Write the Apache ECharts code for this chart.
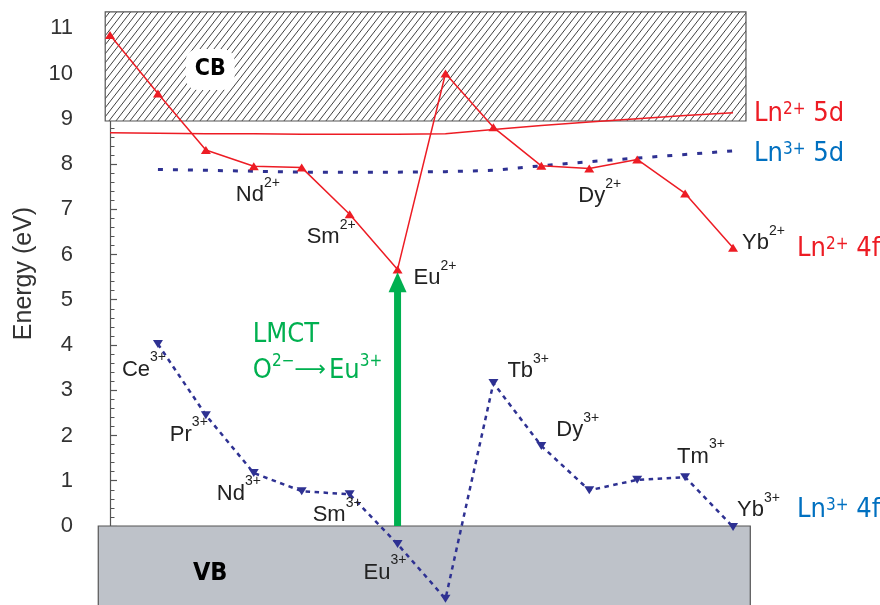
<!DOCTYPE html>
<html><head><meta charset="utf-8">
<script src="https://cdn.jsdelivr.net/npm/echarts@6/dist/echarts.min.js"></script>
<style>html,body{margin:0;padding:0;background:#fff}#c{width:880px;height:605px}</style>
</head><body><div id="c"></div>
<script>
// ---------------- data ----------------
const elements = ['La','Ce','Pr','Nd','Pm','Sm','Eu','Gd','Tb','Dy','Ho','Er','Tm','Yb'];
const ln2_4f = [10.85, 9.56, 8.31, 7.95, 7.92, 6.89, 5.67, 10.0, 8.81, 7.96, 7.90, 8.10, 7.35, 6.15];
const ln2_5d = [8.69, 8.68, 8.67, 8.67, 8.66, 8.66, 8.66, 8.67, 8.76, 8.85, 8.93, 9.00, 9.07, 9.13];
const ln3_5d = [null, 7.88, 7.86, 7.84, 7.82, 7.82, 7.82, 7.83, 7.86, 7.96, 8.05, 8.13, 8.21, 8.29];
const ln3_4f = [null, 4.02, 2.45, 1.17, 0.77, 0.70, -0.40, -1.61, 3.16, 1.77, 0.79, 1.02, 1.08, -0.02];
const yTicks = [0,1,2,3,4,5,6,7,8,9,10,11];
const cbBand = [-0.10, 8.95, 13.27, 11.36];   // x0, y0, x1, y1
const vbBand = [-0.245, -2.0, 13.36, 0];
const lmctArrow = [6, 0, 5.61];               // Eu, from VB top to Eu2+ 4f
const labels2 = ['Nd','Sm','Eu','Dy','Yb'];
const labels3 = ['Ce','Pr','Nd','Sm','Eu','Tb','Dy','Tm','Yb'];
const seriesNames = {r5d:'Ln2+ 5d', b5d:'Ln3+ 5d', r4f:'Ln2+ 4f', b4f:'Ln3+ 4f'};

// ---------------- layout / style ----------------
const RED = '#ED1C24', NAVY = '#2E3192', LBLUE = '#0070C0', GREEN = '#00B050', TXT = '#222';
const FA = '"Liberation Sans", Arial, sans-serif';
const FC = '"DejaVu Sans Condensed", "Liberation Sans", sans-serif';
const off2 = {Nd:[-18,29], Sm:[-43,23], Eu:[16,9], Dy:[37,30], Yb:[9,-4.5]};
const off3 = {Ce:[-36,25.5], Pr:[-36,19.5], Nd:[-37,20.5], Sm:[-37,20.5], Eu:[-34,28.5], Tb:[14,-12], Dy:[15,-15.5], Tm:[-8,-20.5], Yb:[4,-17]};
const annot = {cb:[2.09, 10.09], vb:[2.09, -1.04], lmct:[2.98, 3.83]};

const elRich = {
  a: {fontSize: 22, fontFamily: FA, color: TXT, lineHeight: 38},
  s: {fontSize: 14, fontFamily: FA, color: TXT, lineHeight: 14, verticalAlign: 'top'}
};
function endRich(color) {
  return {
    a: {fontSize: 27, fontFamily: FC, color: color, lineHeight: 26},
    s: {fontSize: 17, fontFamily: FC, color: color, lineHeight: 17, verticalAlign: 'top'}
  };
}
function endFmt(name) { // 'Ln2+ 5d' -> rich
  const m = name.match(/^(Ln)(\d\+) (.+)$/);
  return '{a|' + m[1] + '}{s|' + m[2] + '}{a| ' + m[3] + '}';
}

function pointData(values, labelSet, offs, charge) {
  const out = [];
  values.forEach((v, i) => {
    if (v === null) return;
    const name = elements[i];
    const item = {value: [i, v]};
    if (labelSet.indexOf(name) >= 0) {
      item.label = {show: true, position: 'inside', align: 'left', verticalAlign: 'middle',
        offset: offs[name], formatter: '{a|' + name + '}{s|' + charge + '}', rich: elRich};
    }
    out.push(item);
  });
  return out;
}
function lineData(values) {
  const out = [];
  values.forEach((v, i) => { if (v !== null) out.push([i, v]); });
  return out;
}

// hatch pattern for CB
const pc = document.createElement('canvas');
pc.width = 7; pc.height = 9;
(function () {
  const c = pc.getContext('2d');
  c.fillStyle = '#fff'; c.fillRect(0, 0, 7, 9);
  c.strokeStyle = '#2a2a2a'; c.lineWidth = 0.9;
  c.beginPath();
  c.moveTo(0, 9); c.lineTo(7, 0);
  c.moveTo(-7, 9); c.lineTo(0, 0);
  c.moveTo(7, 9); c.lineTo(14, 0);
  c.stroke();
})();

function bandRender(fill, label, labelPos, labelStyle) {
  return function (params, api) {
    const p0 = api.coord([api.value(0), api.value(3)]);
    const p1 = api.coord([api.value(2), api.value(1)]);
    const lp = api.coord(labelPos);
    return {type: 'group', children: [
      {type: 'rect', shape: {x: p0[0], y: p0[1], width: p1[0] - p0[0], height: p1[1] - p0[1]},
       style: {fill: fill, stroke: '#555', lineWidth: 1.2}},
      {type: 'text', x: lp[0], y: lp[1], style: Object.assign({text: label, align: 'center', verticalAlign: 'middle',
        fontFamily: FC, fontWeight: 'bold', fill: '#000'}, labelStyle)}
    ]};
  };
}

const chart = echarts.init(document.getElementById('c'), null, {renderer: 'canvas'});
chart.setOption({
  animation: false,
  backgroundColor: '#fff',
  grid: {left: 87, right: 123, top: 21, bottom: 79, outerBoundsMode: 'none'},
  xAxis: {type: 'value', min: -0.48, max: 13.5, show: false},
  yAxis: {
    type: 'value', min: 0, max: 11.16, interval: 1,
    name: 'Energy (eV)', nameLocation: 'middle', nameGap: 50,
    nameTextStyle: {fontSize: 25, fontFamily: FA, color: '#333'},
    axisLine: {show: true, lineStyle: {color: '#555', width: 1.2}},
    axisTick: {show: true, inside: true, length: 7, customValues: yTicks, lineStyle: {color: '#555', width: 1.2}},
    minorTick: {show: true, splitNumber: 5, length: 4.5, lineStyle: {color: '#555', width: 1}},
    axisLabel: {customValues: yTicks, fontSize: 22, fontFamily: FA, color: '#333', margin: 14},
    splitLine: {show: false}
  },
  series: [
    {type: 'custom', name: 'CB', clip: false, z: 1, data: [cbBand], encode: {x: [0, 2], y: [1, 3]},
     renderItem: bandRender({image: pc, repeat: 'repeat'}, 'CB', annot.cb,
       {fontSize: 23, backgroundColor: '#fff', borderRadius: 12, padding: [9, 9]})},
    {type: 'custom', name: 'VB', clip: false, z: 1, data: [vbBand], encode: {x: [0, 2], y: [1, 3]},
     renderItem: bandRender('#BEC2C9', 'VB', annot.vb, {fontSize: 25})},
    {type: 'line', name: seriesNames.r5d, clip: false, z: 3, data: lineData(ln2_5d), showSymbol: false, symbol: 'none',
     lineStyle: {color: RED, width: 1.5},
     endLabel: {show: true, distance: 0, offset: [21, 1], align: 'left', verticalAlign: 'middle',
       formatter: endFmt(seriesNames.r5d), rich: endRich(RED)}},
    {type: 'line', name: seriesNames.b5d, clip: false, z: 3, data: lineData(ln3_5d), showSymbol: false, symbol: 'none',
     lineStyle: {color: NAVY, width: 3, type: [5, 10]},
     endLabel: {show: true, distance: 0, offset: [21, 3], align: 'left', verticalAlign: 'middle',
       formatter: endFmt(seriesNames.b5d), rich: endRich(LBLUE)}},
    {type: 'line', name: seriesNames.r4f, clip: false, z: 4, data: pointData(ln2_4f, labels2, off2, '2+'),
     symbol: 'triangle', symbolSize: [10, 8], showAllSymbol: true,
     itemStyle: {color: RED}, lineStyle: {color: RED, width: 1.5},
     endLabel: {show: true, distance: 0, offset: [64, 1], align: 'left', verticalAlign: 'middle',
       formatter: endFmt(seriesNames.r4f), rich: endRich(RED)}},
    {type: 'line', name: seriesNames.b4f, clip: false, z: 4, data: pointData(ln3_4f, labels3, off3, '3+'),
     symbol: 'triangle', symbolRotate: 180, symbolSize: [10, 8], showAllSymbol: true,
     itemStyle: {color: NAVY}, lineStyle: {color: NAVY, width: 2.5, type: [4.5, 4.5]},
     endLabel: {show: true, distance: 0, offset: [64, -17], align: 'left', verticalAlign: 'middle',
       formatter: endFmt(seriesNames.b4f), rich: endRich(LBLUE)}},
    {type: 'custom', name: 'LMCT', clip: false, z: 5, data: [lmctArrow], encode: {x: 0, y: [1, 2]},
     renderItem: function (params, api) {
       const base = api.coord([api.value(0), api.value(1)]);
       const tip = api.coord([api.value(0), api.value(2)]);
       const hh = 20, hw = 9, sw = 7;
       const lp = api.coord(annot.lmct);
       return {type: 'group', children: [
         {type: 'rect', shape: {x: base[0] - sw / 2, y: tip[1] + hh - 1, width: sw, height: base[1] - tip[1] - hh + 1}, style: {fill: GREEN}},
         {type: 'polygon', shape: {points: [[tip[0], tip[1]], [tip[0] - hw, tip[1] + hh], [tip[0] + hw, tip[1] + hh]]}, style: {fill: GREEN}},
         {type: 'text', x: lp[0], y: lp[1], style: {
           text: '{g|LMCT}\n{g|O}{s|2\u2212}{r|\u27F6}{g|Eu}{s|3+}', align: 'left', verticalAlign: 'middle',
           rich: {
             g: {fontSize: 27, fontFamily: FC, fill: GREEN, lineHeight: 36},
             r: {fontSize: 22, fontFamily: '"DejaVu Sans", sans-serif', fill: GREEN, lineHeight: 36, padding: [0, 3, 0, 0]},
             s: {fontSize: 17, fontFamily: FC, fill: GREEN, lineHeight: 18, verticalAlign: 'top'}
           }}}
       ]};
     }}
  ]
});
</script></body></html>
